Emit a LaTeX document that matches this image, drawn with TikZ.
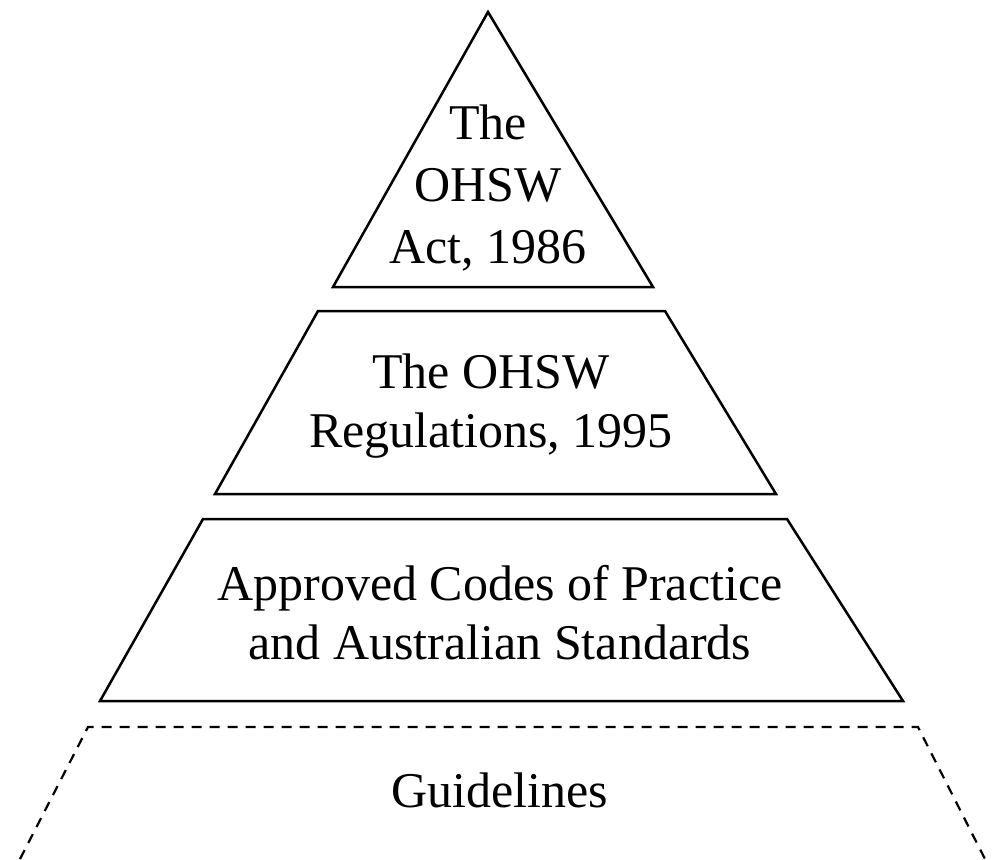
\documentclass[tikz,border=0pt]{standalone}
\usepackage{fontspec}
\setmainfont{Liberation Serif}
\usetikzlibrary{positioning}

\begin{document}
\begin{tikzpicture}[x=0.5pt, y=-0.5pt,
  level/.style={draw, line width=1.25pt, line join=miter},
  label/.style={align=center, font=\fontsize{25}{29.5}\selectfont},
  guide/.style={draw, line width=1.1pt, dash pattern=on 5pt off 4pt}]
\useasboundingbox (0,0) rectangle (1001,859);

% Define corners
\coordinate (apex) at (488,12);
\coordinate (actL) at (333,287);
\coordinate (actR) at (653,287);
\coordinate (regTL) at (318,311);
\coordinate (regTR) at (665,311);
\coordinate (regBL) at (215,494);
\coordinate (regBR) at (776,494);
\coordinate (copTL) at (203,519);
\coordinate (copTR) at (787,519);
\coordinate (copBL) at (100,701);
\coordinate (copBR) at (903,701);
\coordinate (gdlTL) at (88,727);
\coordinate (gdlTR) at (918,727);
\coordinate (gdlBL) at (20,859);
\coordinate (gdlBR) at (985,859);

% Draw levels
\path[level] (apex) -- (actR) -- (actL) -- cycle;
\path[level] (regTL) -- (regTR) -- (regBR) -- (regBL) -- cycle;
\path[level] (copTL) -- (copTR) -- (copBR) -- (copBL) -- cycle;
\path[guide] (gdlBL) -- (gdlTL) -- (gdlTR) -- (gdlBR);

% Add labels
\node[label] (act) at (488,188) {The\\[1.5pt]OHSW\\[1.5pt]Act, 1986};
\node[label] (regs) at (491,406) {The OHSW\\Regulations, 1995};
\node[label] (codes) at (500,613) {Approved Codes of Practice\\and Australian Standards};
\node[label] (guides) at (500,790) {Guidelines};

\end{tikzpicture}
\end{document}
